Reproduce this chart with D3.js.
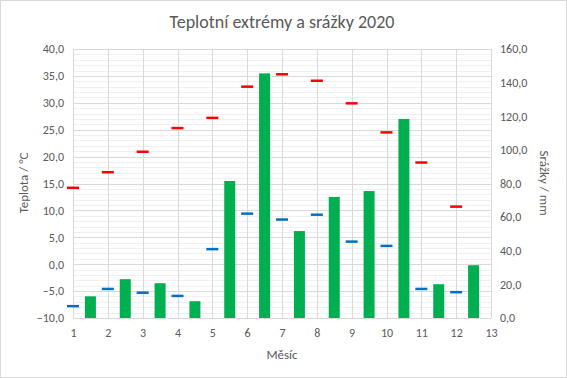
<!DOCTYPE html>
<html>
<head>
<meta charset="utf-8">
<script src="https://cdn.jsdelivr.net/npm/d3@7"></script>
<style>
  body { margin: 0; background: #fff; }
  text { font-family: Carlito, "Open Sans", "Liberation Sans", sans-serif; fill: #595959; }
</style>
</head>
<body>
<svg id="chart" width="567" height="378"></svg>
<script>
// data
var months = [1, 2, 3, 4, 5, 6, 7, 8, 9, 10, 11, 12];
var tempMax = [14.2, 17.1, 20.9, 25.3, 27.2, 33.0, 35.3, 34.1, 29.9, 24.5, 18.9, 10.7];
var tempMin = [-7.8, -4.6, -5.3, -5.9, 2.8, 9.4, 8.3, 9.2, 4.2, 3.4, -4.6, -5.2];
var rain = [12.9, 23.1, 20.7, 10.0, 81.5, 145.5, 51.7, 72.0, 75.5, 118.4, 20.1, 31.4];
var xTicks = [1, 2, 3, 4, 5, 6, 7, 8, 9, 10, 11, 12, 13];
var leftTicks = [-10, -5, 0, 5, 10, 15, 20, 25, 30, 35, 40];
var rightTicks = [0, 20, 40, 60, 80, 100, 120, 140, 160];

var svg = d3.select("#chart");
var W = 567, H = 378;
var plot = { left: 73, right: 491, top: 49, bottom: 318 };

// chart border
svg.append("rect")
  .attr("x", 0.5).attr("y", 0.5)
  .attr("width", W - 1).attr("height", H - 1)
  .attr("fill", "#fff").attr("stroke", "#d9d9d9");

var x = d3.scaleLinear().domain([1, 13]).range([plot.left, plot.right]);
var yT = d3.scaleLinear().domain([-10, 40]).range([plot.bottom, plot.top]);
var yR = d3.scaleLinear().domain([0, 160]).range([plot.bottom, plot.top]);

var fmt = function(d) { return d3.format(".1f")(d).replace(".", ","); };

// minor gridlines every 1 °C
var minor = d3.range(-10, 41, 1).filter(function(d) { return d % 5 != 0; });
svg.append("g").selectAll("line").data(minor).join("line")
  .attr("x1", plot.left).attr("x2", plot.right)
  .attr("y1", function(d) { return Math.round(yT(d)) + 0.5; })
  .attr("y2", function(d) { return Math.round(yT(d)) + 0.5; })
  .attr("stroke", "#f0f0f0");

// major gridlines
svg.append("g").selectAll("line").data(leftTicks).join("line")
  .attr("x1", plot.left).attr("x2", plot.right)
  .attr("y1", function(d) { return Math.round(yT(d)) + 0.5; })
  .attr("y2", function(d) { return Math.round(yT(d)) + 0.5; })
  .attr("stroke", "#d9d9d9");

svg.append("g").selectAll("line").data(xTicks).join("line")
  .attr("x1", function(d) { return Math.round(x(d)) + 0.5; })
  .attr("x2", function(d) { return Math.round(x(d)) + 0.5; })
  .attr("y1", plot.top).attr("y2", plot.bottom)
  .attr("stroke", "#d9d9d9");

// precipitation bars (between month ticks)
var barW = 11;
svg.append("g").selectAll("rect").data(rain).join("rect")
  .attr("x", function(d, i) { return x(months[i] + 0.5) - barW / 2; })
  .attr("y", function(d) { return yR(d); })
  .attr("width", barW)
  .attr("height", function(d) { return yR(0) - yR(d); })
  .attr("fill", "#00b050");

// temperature dashes
function dashes(data, color) {
  svg.append("g").selectAll("line").data(data).join("line")
    .attr("x1", function(d, i) { return x(months[i]) - 6; })
    .attr("x2", function(d, i) { return x(months[i]) + 6; })
    .attr("y1", function(d) { return yT(d); })
    .attr("y2", function(d) { return yT(d); })
    .attr("stroke", color).attr("stroke-width", 2.5);
}
dashes(tempMax, "#ff0000");
dashes(tempMin, "#0070c0");

// axes
var xAxis = svg.append("g")
  .attr("transform", "translate(0," + plot.bottom + ")")
  .call(d3.axisBottom(x).tickValues(xTicks).tickSize(0).tickPadding(10).tickFormat(d3.format("d")));
var lAxis = svg.append("g")
  .attr("transform", "translate(" + plot.left + ",0)")
  .call(d3.axisLeft(yT).tickValues(leftTicks).tickSize(0).tickPadding(9).tickFormat(fmt));
var rAxis = svg.append("g")
  .attr("transform", "translate(" + plot.right + ",0)")
  .call(d3.axisRight(yR).tickValues(rightTicks).tickSize(0).tickPadding(9).tickFormat(fmt));

[xAxis, lAxis, rAxis].forEach(function(a) {
  a.select(".domain").remove();
  a.selectAll("text").attr("font-size", 12).attr("fill", "#595959")
    .attr("font-family", "Carlito, 'Open Sans', 'Liberation Sans', sans-serif");
});

// bottom axis line
svg.append("line")
  .attr("x1", plot.left).attr("x2", plot.right)
  .attr("y1", plot.bottom + 0.5).attr("y2", plot.bottom + 0.5)
  .attr("stroke", "#d9d9d9");

// titles
svg.append("text")
  .attr("x", 282).attr("y", 28)
  .attr("text-anchor", "middle").attr("font-size", 18)
  .text("Teplotní extrémy a srážky 2020");

svg.append("text")
  .attr("x", 282).attr("y", 359)
  .attr("text-anchor", "middle").attr("font-size", 13)
  .text("Měsíc");

svg.append("text")
  .attr("transform", "translate(28,183) rotate(-90)")
  .attr("text-anchor", "middle").attr("font-size", 13)
  .text("Teplota / °C");

svg.append("text")
  .attr("transform", "translate(540,183) rotate(90)")
  .attr("text-anchor", "middle").attr("font-size", 13)
  .text("Srážky / mm");
</script>
</body>
</html>
